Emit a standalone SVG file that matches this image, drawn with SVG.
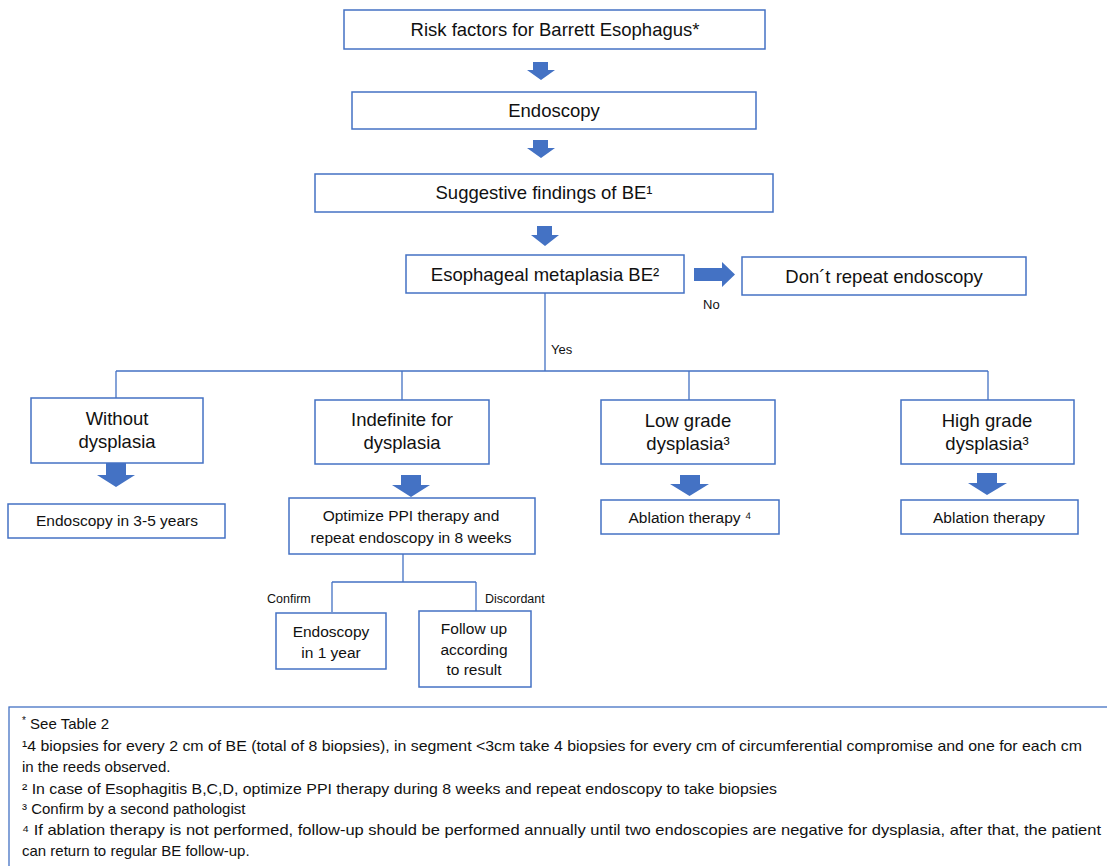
<svg xmlns="http://www.w3.org/2000/svg" width="1107" height="866" viewBox="0 0 1107 866">
<style>
.box{fill:#fff;stroke:#4472C4;stroke-width:1.5}
.ln{fill:none;stroke:#4472C4;stroke-width:1.3}
.arr{fill:#4472C4}
text{font-family:"Liberation Sans",Arial,sans-serif;fill:#111}
.t1{font-size:18.5px;text-anchor:middle}
.t2{font-size:15.5px;text-anchor:middle}
.lbl{font-size:12.5px}
.fn{font-size:15px}
</style>
<rect width="1107" height="866" fill="#fff"/>
<g id="connectors">
<path class="arr" d="M533,62H548V70H555L541,80L527,70H533Z"/>
<path class="arr" d="M533,140H548V148H555L541,158L527,148H533Z"/>
<path class="arr" d="M537,226H552V235H559L545,246L531,235H537Z"/>
<path class="arr" d="M694,268H722V262L735,274.5L722,287V281H694Z"/>
<path class="ln" d="M545,293V371M116,371H988M116,371V398M402,371V400M689,371V400M988,371V400"/>
<path class="arr" d="M106,463H126V475H135L116,487L97,475H106Z"/>
<path class="arr" d="M401,475H421V485H430L411,497L392,485H401Z"/>
<path class="arr" d="M680,475H700V484H709L689.5,496L670,484H680Z"/>
<path class="arr" d="M977,473H997V483H1007L987,495L968,483H977Z"/>
<path class="ln" d="M403,554V582M332,582H476M332,582V612M476,582V611"/>
<text class="lbl" x="703" y="309" style="font-size:13px">No</text>
<text class="lbl" x="551" y="354" style="font-size:13px">Yes</text>
<text class="lbl" x="267" y="603">Confirm</text>
<text class="lbl" x="485" y="603">Discordant</text>
</g>
<g id="risk"><rect class="box" x="344" y="10" width="421" height="39"/><text class="t1" x="555" y="36">Risk factors for Barrett Esophagus*</text></g>
<g id="endoscopy"><rect class="box" x="352" y="92" width="404" height="37"/><text class="t1" x="554" y="117">Endoscopy</text></g>
<g id="suggestive"><rect class="box" x="315" y="174" width="458" height="38"/><text class="t1" x="544" y="199">Suggestive findings of BE¹</text></g>
<g id="metaplasia"><rect class="box" x="406" y="255" width="278" height="38"/><text class="t1" x="545" y="281">Esophageal metaplasia BE²</text></g>
<g id="dont"><rect class="box" x="742" y="257" width="284" height="38"/><text class="t1" x="884" y="283">Don´t repeat endoscopy</text></g>
<g id="without"><rect class="box" x="31" y="398" width="172" height="65"/><text class="t1" x="117" y="425">Without</text><text class="t1" x="117" y="448">dysplasia</text></g>
<g id="indefinite"><rect class="box" x="315" y="400" width="174" height="64"/><text class="t1" x="402" y="426">Indefinite for</text><text class="t1" x="402" y="449">dysplasia</text></g>
<g id="lowgrade"><rect class="box" x="601" y="400" width="174" height="64"/><text class="t1" x="688" y="427">Low grade</text><text class="t1" x="688" y="450">dysplasia³</text></g>
<g id="highgrade"><rect class="box" x="901" y="400" width="173" height="64"/><text class="t1" x="987" y="427">High grade</text><text class="t1" x="987" y="450">dysplasia³</text></g>
<g id="endo35"><rect class="box" x="8" y="504" width="217" height="34"/><text class="t2" x="117" y="526">Endoscopy in 3-5 years</text></g>
<g id="optimize"><rect class="box" x="289" y="498" width="246" height="56"/><text class="t2" x="411" y="521">Optimize PPI therapy and</text><text class="t2" x="411" y="543">repeat endoscopy in 8 weeks</text></g>
<g id="ablation4"><rect class="box" x="601" y="500" width="178" height="34"/><text class="t2" x="690" y="523">Ablation therapy ⁴</text></g>
<g id="ablation"><rect class="box" x="901" y="500" width="177" height="34"/><text class="t2" x="989" y="523">Ablation therapy</text></g>
<g id="endo1"><rect class="box" x="276" y="613" width="110" height="56"/><text class="t2" x="331" y="637">Endoscopy</text><text class="t2" x="331" y="658">in 1 year</text></g>
<g id="followup"><rect class="box" x="419" y="611" width="112" height="76"/><text class="t2" x="474" y="634">Follow up</text><text class="t2" x="474" y="655">according</text><text class="t2" x="474" y="675">to result</text></g>
<g id="footnotes">
<rect x="9" y="707" width="1110" height="170" fill="none" stroke="#4472C4" stroke-width="1.3"/>
<text class="fn" x="22" y="729"><tspan font-size="10" dy="-5">*</tspan><tspan dy="5"> See Table 2</tspan></text>
<text class="fn" x="22" y="751" textLength="1060" lengthAdjust="spacingAndGlyphs">¹4 biopsies for every 2 cm of BE (total of 8 biopsies), in segment &lt;3cm take 4 biopsies for every cm of circumferential compromise and one for each cm</text>
<text class="fn" x="22" y="772">in the reeds observed.</text>
<text class="fn" x="22" y="794" textLength="755" lengthAdjust="spacingAndGlyphs">² In case of Esophagitis B,C,D, optimize PPI therapy during 8 weeks and repeat endoscopy to take biopsies</text>
<text class="fn" x="22" y="814">³ Confirm by a second pathologist</text>
<text class="fn" x="22" y="835" textLength="1079" lengthAdjust="spacingAndGlyphs">⁴ If ablation  therapy is not performed, follow-up should be performed annually until two endoscopies are negative for dysplasia, after that, the patient</text>
<text class="fn" x="22" y="856">can return to regular BE follow-up.</text>
</g>
</svg>
